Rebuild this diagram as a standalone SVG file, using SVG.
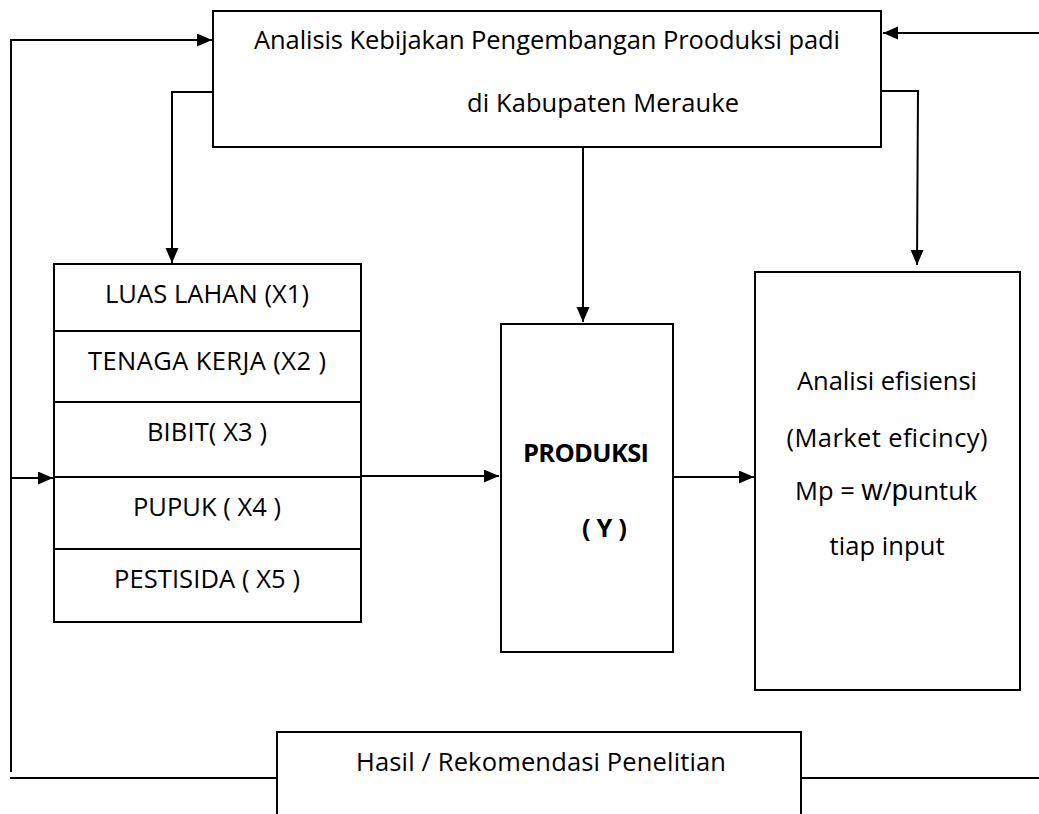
<svg xmlns="http://www.w3.org/2000/svg" width="1039" height="814" viewBox="0 0 1039 814">
<style>
.box{fill:#fff;stroke:#000;stroke-width:2}
.sep{stroke:#000;stroke-width:2}
.con{fill:none;stroke:#000;stroke-width:2}
.t{font-family:"Open Sans","Liberation Sans",sans-serif;font-size:25.5px;fill:#000}
.c{text-anchor:middle}
.b{font-weight:bold}
</style>
<defs>
<marker id="ah" markerUnits="userSpaceOnUse" markerWidth="16" markerHeight="14" refX="15" refY="6.5" orient="auto">
<path d="M0,0 L15,6.5 L0,13 z" fill="#000"/>
</marker>
</defs>
<rect width="1039" height="814" fill="#fff"/>
<g id="connectors">
<polyline class="con" points="11,772 11,40 212,40" marker-end="url(#ah)"/>
<line class="con" x1="11" y1="478" x2="53" y2="478" marker-end="url(#ah)"/>
<line class="con" x1="1039" y1="33" x2="883" y2="33" marker-end="url(#ah)"/>
<polyline class="con" points="213,92 172,92 172,263" marker-end="url(#ah)"/>
<polyline class="con" points="881,91 918,91 917,265" marker-end="url(#ah)"/>
<line class="con" x1="583" y1="147" x2="583" y2="322" marker-end="url(#ah)"/>
<line class="con" x1="361" y1="476" x2="499" y2="476" marker-end="url(#ah)"/>
<line class="con" x1="673" y1="477" x2="754" y2="477" marker-end="url(#ah)"/>
<line class="con" x1="10" y1="778" x2="277" y2="778"/>
<line class="con" x1="801" y1="778" x2="1039" y2="778"/>
</g>
<g id="top">
<rect class="box" x="213" y="11" width="668" height="136"/>
<text class="t" x="254" y="49" textLength="586" lengthAdjust="spacing">Analisis Kebijakan Pengembangan Prooduksi padi</text>
<text class="t" x="467" y="112" textLength="272" lengthAdjust="spacing">di Kabupaten Merauke</text>
</g>
<g id="inputs">
<rect class="box" x="54" y="264" width="307" height="358"/>
<line class="sep" x1="54" y1="331" x2="361" y2="331"/>
<line class="sep" x1="54" y1="402" x2="361" y2="402"/>
<line class="sep" x1="54" y1="477" x2="361" y2="477"/>
<line class="sep" x1="54" y1="549" x2="361" y2="549"/>
<text class="t c" x="207" y="303" textLength="204" lengthAdjust="spacing">LUAS LAHAN (X1)</text>
<text class="t c" x="207" y="370" textLength="238" lengthAdjust="spacing">TENAGA KERJA (X2 )</text>
<text class="t c" x="207" y="441" textLength="120" lengthAdjust="spacing">BIBIT( X3 )</text>
<text class="t c" x="207" y="516" textLength="148" lengthAdjust="spacing">PUPUK ( X4 )</text>
<text class="t c" x="207" y="588" textLength="186" lengthAdjust="spacing">PESTISIDA ( X5 )</text>
</g>
<g id="produksi">
<rect class="box" x="501" y="324" width="172" height="328"/>
<text class="t b" x="523" y="462" textLength="126" lengthAdjust="spacing">PRODUKSI</text>
<text class="t b" x="582" y="537" textLength="45" lengthAdjust="spacing">( Y )</text>
</g>
<g id="efisiensi">
<rect class="box" x="755" y="272" width="265" height="418"/>
<text class="t c" x="887" y="390" textLength="180" lengthAdjust="spacing">Analisi efisiensi</text>
<text class="t c" x="887" y="447" textLength="201" lengthAdjust="spacing">(Market eficincy)</text>
<text class="t" x="795" y="500">Mp = <tspan font-family="Liberation Sans" font-size="29">w</tspan>/<tspan font-family="Liberation Sans" font-size="29">p</tspan>untuk</text>
<text class="t c" x="887" y="555" textLength="115" lengthAdjust="spacing">tiap input</text>
</g>
<g id="hasil">
<rect class="box" x="277" y="732" width="524" height="100"/>
<text class="t" x="356" y="771" textLength="370" lengthAdjust="spacing">Hasil / Rekomendasi Penelitian</text>
</g>
</svg>
